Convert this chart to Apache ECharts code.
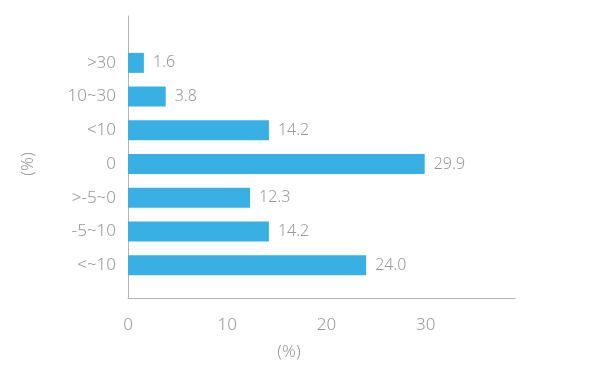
<!DOCTYPE html>
<html>
<head>
<meta charset="utf-8">
<script src="https://cdn.jsdelivr.net/npm/echarts@6/dist/echarts.min.js"></script>
<style>html,body{margin:0;padding:0;background:#fff}#c{width:600px;height:369px}</style>
</head>
<body>
<div id="c"></div>
<script>
const categories = ['<~10', '-5~10', '>-5~0', '0', '<10', '10~30', '>30'];
const values = [24.0, 14.2, 12.3, 29.9, 14.2, 3.8, 1.6];
const xTicks = [0, 10, 20, 30];
const axisName = '(%)';

const FONT = '"Noto Sans"';
const TXT = '#999999';
const LINE = '#b4b4b4';
const XMAX = 39;

const chart = echarts.init(document.getElementById('c'), null, {renderer: 'canvas'});
chart.setOption({
  animation: false,
  backgroundColor: '#fff',
  grid: [
    {left: 128, right: 85, top: 46, bottom: 87},
    {left: 128, right: 85, top: 16, bottom: 71}
  ],
  xAxis: [
    {gridIndex: 0, type: 'value', min: 0, max: XMAX, show: false},
    {gridIndex: 1, type: 'value', min: 0, max: XMAX, interval: 10,
     axisLine: {show: true, lineStyle: {color: LINE, width: 1}},
     axisTick: {show: false}, splitLine: {show: false},
     axisLabel: {color: TXT, fontFamily: FONT, fontWeight: 300, fontSize: 17, margin: 19,
       showMaxLabel: false,
       formatter: v => xTicks.indexOf(v) >= 0 ? String(v) : ''}}
  ],
  yAxis: [
    {gridIndex: 0, type: 'category', data: categories,
     axisLine: {show: false}, axisTick: {show: false}, splitLine: {show: false},
     axisLabel: {color: TXT, fontFamily: FONT, fontWeight: 300, fontSize: 17, margin: 12},
     name: axisName, nameLocation: 'middle', nameRotate: 90, nameGap: 91,
     nameTextStyle: {color: TXT, fontFamily: FONT, fontWeight: 300, fontSize: 17}},
    {gridIndex: 1, type: 'value', min: 0, max: 1,
     axisLine: {show: true, lineStyle: {color: LINE, width: 1}},
     axisTick: {show: false}, splitLine: {show: false}, axisLabel: {show: false}}
  ],
  graphic: [
    {type: 'text', x: 289, y: 352,
     style: {text: axisName, fill: TXT, font: '300 17px "Noto Sans"',
       textAlign: 'center', textVerticalAlign: 'middle'}}
  ],
  series: [{
    type: 'bar', xAxisIndex: 0, yAxisIndex: 0,
    data: values, barWidth: 20,
    itemStyle: {color: '#38b0e4'},
    label: {show: true, position: 'right', distance: 9, color: TXT,
      fontFamily: FONT, fontWeight: 300, fontSize: 16,
      formatter: p => p.value.toFixed(1)}
  }]
});
</script>
</body>
</html>
